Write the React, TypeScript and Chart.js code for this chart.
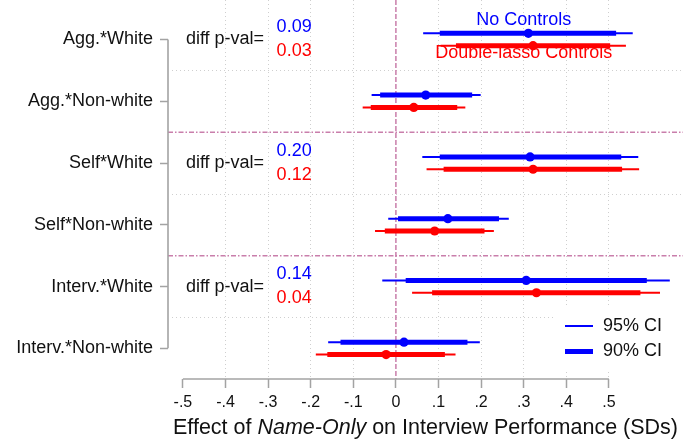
import React, { useEffect, useRef } from "react";
import { Chart, registerables } from "chart.js";

Chart.register(...registerables);

// Rows of the coefficient plot, top to bottom
const categories = [
  "Agg.*White",
  "Agg.*Non-white",
  "Self*White",
  "Self*Non-white",
  "Interv.*White",
  "Interv.*Non-white",
];

// No controls: point estimate, 95% and 90% confidence bounds
const noCtrlEst = [0.311, 0.07, 0.315, 0.122, 0.306, 0.019];
const noCtrl95Lo = [0.064, -0.057, 0.062, -0.018, -0.032, -0.159];
const noCtrl95Hi = [0.556, 0.199, 0.569, 0.265, 0.643, 0.197];
const noCtrl90Lo = [0.103, -0.037, 0.103, 0.005, 0.023, -0.13];
const noCtrl90Hi = [0.517, 0.179, 0.529, 0.242, 0.589, 0.168];

// Double-lasso controls: point estimate, 95% and 90% confidence bounds
const lassoEst = [0.322, 0.042, 0.322, 0.091, 0.33, -0.023];
const lasso95Lo = [0.105, -0.078, 0.072, -0.049, 0.038, -0.188];
const lasso95Hi = [0.54, 0.163, 0.571, 0.23, 0.62, 0.14];
const lasso90Lo = [0.141, -0.059, 0.112, -0.026, 0.085, -0.161];
const lasso90Hi = [0.503, 0.144, 0.531, 0.208, 0.574, 0.115];

// p-values of the White vs Non-white difference, shown on the White rows
const pValueRows = [0, 2, 4];
const pValuesNoCtrl = ["0.09", "0.20", "0.14"];
const pValuesLasso = ["0.03", "0.12", "0.04"];

// Horizontal axis ticks
const xTickValues = [-0.5, -0.4, -0.3, -0.2, -0.1, 0, 0.1, 0.2, 0.3, 0.4, 0.5];
const xTickLabels = ["-.5", "-.4", "-.3", "-.2", "-.1", "0", ".1", ".2", ".3", ".4", ".5"];

const seriesNames = ["No Controls", "Double-lasso Controls"];
const ciNames = ["95% CI", "90% CI"];

const BLUE = "#0000ff";
const RED = "#ff0000";
const AXIS_GRAY = "#a3a3a3";
const GRID_GRAY = "#cfcfcf";
const REF_PINK = "#c97eab";
const TEXT = "#111111";
const FONT = '"Liberation Sans", Arial, Helvetica, sans-serif';
const ROW_SHIFT = 0.1;

const coefPlot = {
  id: "coefPlot",
  beforeDatasetsDraw(chart: any) {
    const { ctx, chartArea: a, scales } = chart;
    const x = scales.x;
    const y = scales.y;
    ctx.save();

    // dotted separators inside each pair of rows
    ctx.strokeStyle = GRID_GRAY;
    ctx.lineWidth = 1;
    ctx.setLineDash([1, 3]);
    [0.5, 2.5, 4.5].forEach((v) => {
      const py = Math.round(y.getPixelForValue(v)) + 0.5;
      ctx.beginPath();
      ctx.moveTo(a.left + 4, py);
      ctx.lineTo(a.right, py);
      ctx.stroke();
    });

    // dashed separators between groups and the zero reference line
    ctx.strokeStyle = REF_PINK;
    ctx.lineWidth = 1.5;
    ctx.setLineDash([5, 2, 1.5, 2]);
    [1.5, 3.5].forEach((v) => {
      const py = y.getPixelForValue(v);
      ctx.beginPath();
      ctx.moveTo(a.left, py);
      ctx.lineTo(a.right, py);
      ctx.stroke();
    });
    ctx.setLineDash([5, 2]);
    const x0 = x.getPixelForValue(0);
    ctx.beginPath();
    ctx.moveTo(x0, a.top);
    ctx.lineTo(x0, a.bottom);
    ctx.stroke();

    // axis lines spanning first to last tick
    ctx.setLineDash([]);
    ctx.strokeStyle = AXIS_GRAY;
    ctx.lineWidth = 1.6;
    ctx.beginPath();
    ctx.moveTo(a.left, y.getPixelForValue(0));
    ctx.lineTo(a.left, y.getPixelForValue(categories.length - 1));
    ctx.stroke();
    ctx.beginPath();
    ctx.moveTo(x.getPixelForValue(xTickValues[0]), a.bottom);
    ctx.lineTo(x.getPixelForValue(xTickValues[xTickValues.length - 1]), a.bottom);
    ctx.stroke();

    // confidence intervals
    const drawCI = (lo: number[], hi: number[], shift: number, width: number, color: string) => {
      ctx.strokeStyle = color;
      ctx.lineWidth = width;
      ctx.lineCap = "butt";
      lo.forEach((l, i) => {
        const py = y.getPixelForValue(i + shift);
        ctx.beginPath();
        ctx.moveTo(x.getPixelForValue(l), py);
        ctx.lineTo(x.getPixelForValue(hi[i]), py);
        ctx.stroke();
      });
    };
    drawCI(noCtrl95Lo, noCtrl95Hi, -ROW_SHIFT, 2, BLUE);
    drawCI(noCtrl90Lo, noCtrl90Hi, -ROW_SHIFT, 5, BLUE);
    drawCI(lasso95Lo, lasso95Hi, ROW_SHIFT, 2, RED);
    drawCI(lasso90Lo, lasso90Hi, ROW_SHIFT, 5, RED);

    ctx.restore();
  },
  afterDatasetsDraw(chart: any) {
    const { ctx, chartArea: a, scales } = chart;
    const x = scales.x;
    const y = scales.y;
    ctx.save();
    ctx.font = `18px ${FONT}`;
    ctx.textBaseline = "middle";

    // series labels next to the first row
    ctx.textAlign = "center";
    const lx = x.getPixelForValue(0.3);
    ctx.fillStyle = BLUE;
    ctx.fillText(seriesNames[0], lx, y.getPixelForValue(0) - 19.5);
    ctx.fillStyle = RED;
    ctx.fillText(seriesNames[1], lx, y.getPixelForValue(0) + 14);

    // difference p-values
    ctx.textAlign = "left";
    const dx = x.getPixelForValue(-0.493);
    const px = x.getPixelForValue(-0.28);
    pValueRows.forEach((row, k) => {
      const py = y.getPixelForValue(row);
      ctx.fillStyle = TEXT;
      ctx.fillText("diff p-val=", dx, py);
      ctx.fillStyle = BLUE;
      ctx.fillText(pValuesNoCtrl[k], px, py - 12.5);
      ctx.fillStyle = RED;
      ctx.fillText(pValuesLasso[k], px, py + 11.5);
    });

    // legend box
    const bx = 553;
    const by = 308;
    ctx.fillStyle = "#ffffff";
    ctx.fillRect(bx, by, a.right - bx, 61);
    ctx.strokeStyle = BLUE;
    ctx.lineCap = "butt";
    [2, 5].forEach((w, k) => {
      const ly = by + 18 + k * 25.5;
      ctx.lineWidth = w;
      ctx.beginPath();
      ctx.moveTo(bx + 12, ly);
      ctx.lineTo(bx + 40, ly);
      ctx.stroke();
      ctx.fillStyle = TEXT;
      ctx.fillText(ciNames[k], bx + 50, ly);
    });

    // axis title with italic treatment name
    const parts = [
      { t: "Effect of ", f: `21.5px ${FONT}` },
      { t: "Name-Only", f: `italic 21.5px ${FONT}` },
      { t: " on Interview Performance (SDs)", f: `21.5px ${FONT}` },
    ];
    let total = 0;
    parts.forEach((p) => {
      ctx.font = p.f;
      total += ctx.measureText(p.t).width;
    });
    let tx = (a.left + a.right) / 2 - total / 2;
    const ty = 428.5;
    ctx.fillStyle = TEXT;
    parts.forEach((p) => {
      ctx.font = p.f;
      ctx.fillText(p.t, tx, ty);
      tx += ctx.measureText(p.t).width;
    });

    ctx.restore();
  },
};

export default function App() {
  const canvasRef = useRef<HTMLCanvasElement | null>(null);

  useEffect(() => {
    document.body.style.margin = "0";
    const canvas = canvasRef.current;
    if (!canvas) return;

    const chart = new Chart(canvas, {
      type: "scatter",
      data: {
        datasets: [
          {
            label: seriesNames[0],
            data: noCtrlEst.map((v, i) => ({ x: v, y: i - ROW_SHIFT })),
            backgroundColor: BLUE,
            borderColor: BLUE,
            pointRadius: 4.6,
            pointBorderWidth: 0,
          },
          {
            label: seriesNames[1],
            data: lassoEst.map((v, i) => ({ x: v, y: i + ROW_SHIFT })),
            backgroundColor: RED,
            borderColor: RED,
            pointRadius: 4.6,
            pointBorderWidth: 0,
          },
        ],
      },
      options: {
        responsive: false,
        animation: false,
        events: [],
        layout: { padding: 0, autoPadding: false },
        plugins: {
          legend: { display: false },
          tooltip: { enabled: false },
        },
        scales: {
          x: {
            type: "linear",
            min: -0.535,
            max: 0.674,
            afterBuildTicks: (scale: any) => {
              scale.ticks = xTickValues.map((v) => ({ value: v }));
            },
            afterFit: (scale: any) => {
              scale.height = 62;
              scale.paddingLeft = 0;
              scale.paddingRight = 0;
            },
            border: { display: false, dash: [1, 3] },
            grid: {
              lineWidth: 1,
              color: (c: any) => {
                const v = c.tick ? c.tick.value : undefined;
                if (v === undefined || Math.abs(v) < 1e-9 || Math.abs(v + 0.5) < 1e-9) return "rgba(0,0,0,0)";
                return GRID_GRAY;
              },
              tickColor: AXIS_GRAY,
              tickWidth: 1.5,
              tickLength: 9,
              tickBorderDash: [],
            },
            ticks: {
              autoSkip: false,
              maxRotation: 0,
              padding: 5,
              color: TEXT,
              font: { family: FONT, size: 16 },
              callback: (_v: any, i: number) => xTickLabels[i],
            },
          },
          y: {
            type: "linear",
            reverse: true,
            min: -0.64,
            max: 5.496,
            afterBuildTicks: (scale: any) => {
              scale.ticks = categories.map((_, i) => ({ value: i }));
            },
            afterFit: (scale: any) => {
              scale.width = 168;
              scale.paddingTop = 0;
              scale.paddingBottom = 0;
            },
            border: { display: false },
            grid: {
              drawOnChartArea: false,
              drawTicks: true,
              tickLength: 8,
              tickColor: AXIS_GRAY,
              tickWidth: 1.5,
            },
            ticks: {
              autoSkip: false,
              padding: 7,
              color: TEXT,
              font: { family: FONT, size: 18 },
              callback: (v: any) => categories[Math.round(Number(v))],
            },
          },
        },
      },
      plugins: [coefPlot],
    });

    return () => chart.destroy();
  }, []);

  return (
    <div style={{ width: 683, height: 441, background: "#ffffff" }}>
      <canvas ref={canvasRef} width={683} height={441} />
    </div>
  );
}
